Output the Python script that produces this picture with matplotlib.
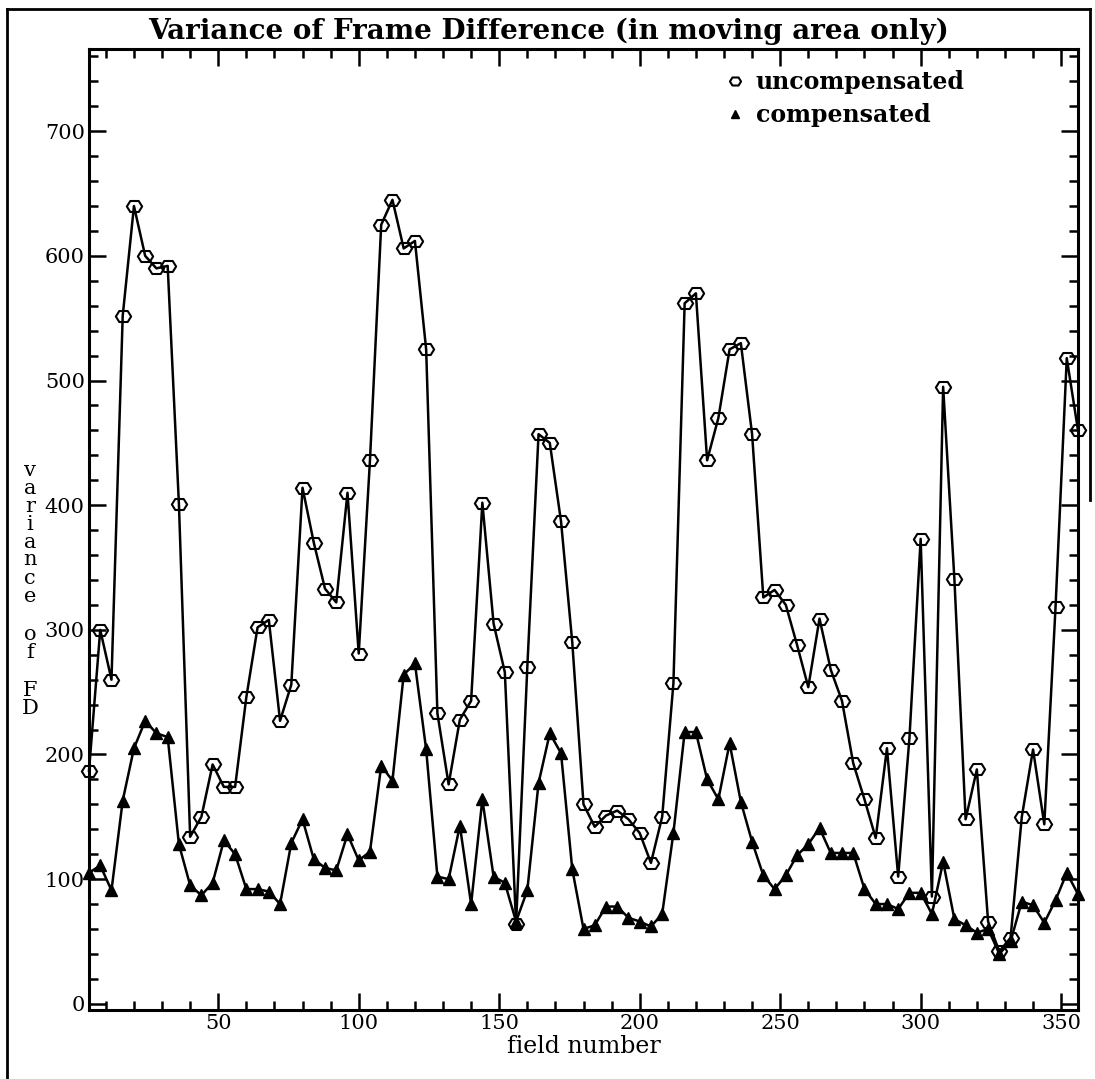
import numpy as np
import matplotlib
matplotlib.use("Agg")
import matplotlib.pyplot as plt
from matplotlib.lines import Line2D
from matplotlib.path import Path
from matplotlib.ticker import MultipleLocator

plt.rcParams["font.family"] = ["DejaVu Serif"]

# field numbers, one sample every 4 fields
field = np.arange(4, 357, 4)

uncompensated = [187, 300, 260, 552, 640, 600, 590, 592, 401, 134,
                 150, 192, 174, 174, 246, 302, 308, 227, 256, 414,
                 370, 333, 322, 410, 281, 436, 625, 645, 606, 612,
                 525, 233, 176, 228, 243, 402, 305, 266, 64, 270,
                 457, 450, 387, 290, 160, 142, 151, 155, 148, 137,
                 113, 150, 257, 562, 570, 436, 470, 525, 530, 457,
                 326, 332, 320, 288, 254, 309, 268, 243, 193, 164,
                 133, 205, 102, 213, 373, 86, 495, 341, 148, 188,
                 66, 42, 53, 150, 204, 144, 318, 518, 460]

compensated = [105, 111, 91, 163, 205, 227, 217, 214, 128, 95,
               87, 97, 131, 120, 92, 92, 90, 80, 129, 148,
               116, 109, 107, 136, 115, 122, 191, 179, 264, 273,
               204, 102, 100, 143, 80, 164, 102, 97, 66, 91,
               177, 217, 201, 108, 60, 63, 78, 78, 69, 66,
               62, 72, 137, 218, 218, 180, 164, 209, 162, 130,
               103, 92, 103, 119, 128, 141, 121, 121, 121, 92,
               80, 80, 76, 89, 89, 72, 114, 68, 63, 57,
               60, 40, 50, 82, 79, 65, 83, 105, 88]

# flattened octagon used for the open "o" symbol
ring = Path([(-1, 0), (-0.55, 0.72), (0.55, 0.72), (1, 0),
             (0.55, -0.72), (-0.55, -0.72), (-1, 0)], closed=True)

W, H = 1095, 1079
fig = plt.figure(figsize=(W / 100, H / 100), dpi=100)
ax = fig.add_axes([89 / W, 1 - 1010 / H, (1078 - 89) / W, (1010 - 49) / H])

ax.plot(field, uncompensated, color="black", lw=1.8, marker=ring, ms=11,
        mfc="none", mec="black", mew=1.5, clip_on=False, zorder=3)
ax.plot(field, compensated, color="black", lw=1.8, marker="^", ms=9,
        mfc="black", mec="black", clip_on=False, zorder=3)

ax.set_xlim(4, 356)
ax.set_ylim(-5, 766)
ax.xaxis.set_major_locator(MultipleLocator(50))
ax.xaxis.set_minor_locator(MultipleLocator(10))
ax.yaxis.set_major_locator(MultipleLocator(100))
ax.yaxis.set_minor_locator(MultipleLocator(20))
ax.set_yticks(range(0, 701, 100))
ax.tick_params(which="both", direction="in", top=True, right=True,
               width=1.8, labelsize=15, pad=3)
ax.tick_params(which="major", length=12)
ax.tick_params(which="minor", length=6.5)
for s in ax.spines.values():
    s.set_linewidth(2.2)

ax.set_xlabel("field number", fontsize=17, labelpad=1)

# y label written as a vertical column of letters
yl = 0
for word in ["variance", "of", "FD"]:
    for ch in word:
        fig.text(30 / W, 1 - (470 + yl) / H, ch, ha="center", va="center",
                 fontsize=15)
        yl += 18
    yl += 20

fig.text(549 / W, 1 - 31 / H, "Variance of Frame Difference (in moving area only)",
         ha="center", va="center", fontsize=20, fontweight="bold")

handles = [Line2D([], [], ls="none", marker=ring, ms=8, mfc="none", mec="black", mew=1.5),
           Line2D([], [], ls="none", marker="^", ms=6, mfc="black", mec="black")]
ax.legend(handles, ["uncompensated", "compensated"], loc="upper left",
          bbox_to_anchor=(726 / W, 1 - 70 / H), bbox_transform=fig.transFigure,
          frameon=False, borderpad=0, borderaxespad=0, handlelength=0.8,
          handletextpad=0.45, labelspacing=0.4,
          prop={"size": 17, "weight": "bold"})

# outer frame around the figure
fig.add_artist(Line2D([7 / W, 7 / W], [0, 1 - 9 / H], color="black", lw=2))
fig.add_artist(Line2D([7 / W, 1090 / W], [1 - 9 / H, 1 - 9 / H], color="black", lw=2))
fig.add_artist(Line2D([1090 / W, 1090 / W], [1 - 9 / H, 1 - 500 / H], color="black", lw=2))

fig.savefig("out.png", dpi=100)
